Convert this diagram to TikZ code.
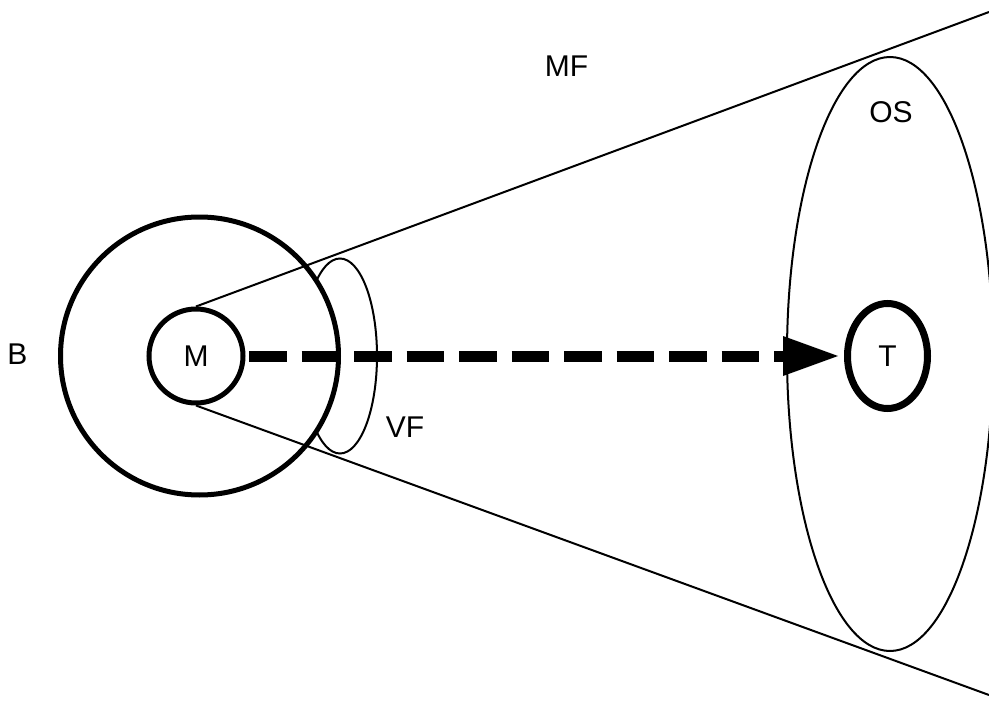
\documentclass[tikz,border=0pt]{standalone}
\usepackage{fontspec}
\setmainfont{Liberation Sans}
\usepackage{tikz}
\usetikzlibrary{positioning,arrows.meta,shapes.geometric}

\begin{document}
\begin{tikzpicture}[
  x=1pt, y=-1pt,
  lbl/.style={font=\fontsize{30}{36}\selectfont, inner sep=0pt},
  thin line/.style={draw, line width=2pt},
  ring/.style={circle, draw, line width=5pt, fill=white, inner sep=0pt, lbl},
  oval/.style={ellipse, thin line, inner sep=0pt},
  target/.style={ellipse, draw, line width=7pt, fill=white, inner sep=0pt,
                 minimum width=80pt, minimum height=105pt, lbl},
  flow/.style={line width=11pt, dash pattern=on 37.5pt off 15pt,
               -{Triangle[length=55pt, width=40pt, line width=0pt]},
               shorten <=3.5pt, shorten >=6pt}
]
\useasboundingbox (0,0) rectangle (989,701);

% field of the observer
\node[oval, minimum width=206pt, minimum height=594pt] (os) at (890,354) {};
\node[oval, minimum width=74pt, minimum height=195pt] (vf) at (340,356) {};
\node[ring, minimum size=278pt] (bring) at (199.5,356) {};
\node[ring, minimum size=94pt] (m) at (196,356) {M};
\node[target] (t) at (887.5,356) {T};

\coordinate (mfa) at (989,12);
\coordinate (mfb) at (989,695);

\draw[line width=2pt] (m.north) -- (mfa);
\draw[line width=2pt] (m.south) -- (mfb);
\draw[flow] (m) -- (t);

% labels
\node[lbl] (blab)  at (17.5,354) {B};
\node[lbl] (mflab) at (566.5,66) {MF};
\node[lbl] (oslab) at (891,112.5) {OS};
\node[lbl] (vflab) at (405,427.5) {VF};

\end{tikzpicture}
\end{document}
